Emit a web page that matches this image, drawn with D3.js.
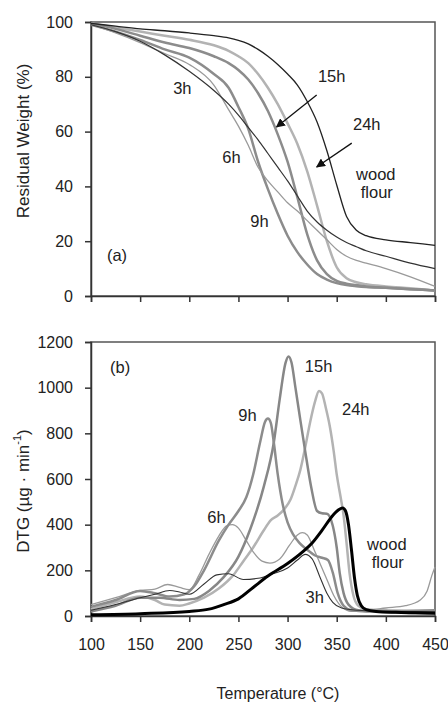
<!DOCTYPE html>
<html lang="en">
  <head>
    <meta charset="UTF-8" />
    <title>TG / DTG curves</title>
    <style>
      body { margin: 0; background: #fff; }
      svg { font-family: "Liberation Sans", Arial, sans-serif; }
      .axis path, .axis line { stroke: #333; stroke-width: 1.5; }
      .axis text { fill: #222; }
      .lbl { fill: #222; font-size: 16.5px; text-anchor: middle; dominant-baseline: central; }
    </style>
  </head>
  <body>
    <svg width="448" height="702"></svg>
    <script src="https://d3js.org/d3.v7.min.js"></script>
    <script>
      // --- TG data (residual weight, %) ---
      const tgTemps = [100, 125, 150, 175, 200, 225, 240, 250, 260, 270, 280, 290, 300, 310, 320, 330, 340, 350, 360, 370, 380, 400, 425, 450];
      const tgWood = [99.5, 98.5, 97.5, 96.8, 96, 95, 94.2, 93.3, 92, 90, 87.5, 84.5, 81, 77, 71, 63.5, 53, 40.5, 29, 24, 22, 20.5, 19.5, 18.5];
      const tg3h = [99, 96.5, 93, 88, 82, 75, 70, 66, 61.5, 57, 52, 47, 42, 36.5, 31, 27, 24, 21.5, 19.5, 18, 16.5, 14.5, 12, 10];
      const tg6h = [99, 96, 92.5, 88.5, 84.5, 77, 68, 62, 55, 47, 42, 38, 34, 31, 27.5, 24, 20.5, 17, 14.5, 13, 12, 10, 7, 3.5];
      const tg9h = [99, 96.5, 93.5, 90, 87, 81, 76, 69, 61, 49, 39, 30, 22, 16, 11.5, 8, 6, 4.7, 4, 3.6, 3.3, 3, 2.5, 2];
      const tg15h = [99.5, 97.5, 95, 92.5, 90.5, 87.5, 85, 82.5, 79, 74, 67.5, 59, 49, 36, 22.5, 13, 8, 5.5, 4.5, 4, 3.5, 3, 2.5, 2];
      const tg24h = [99.5, 98, 96.5, 95, 93.5, 91.5, 89.5, 87.5, 85, 81, 76, 70, 63, 55.5, 45.5, 33, 20, 10.5, 6.5, 5, 4.3, 3.5, 2.8, 2];

      // --- DTG data (ug/min) ---
      const woodT = [100, 150, 200, 220, 235, 250, 265, 280, 300, 315, 325, 335, 345, 352, 356, 359, 362, 365, 368, 371, 375, 380, 390, 410, 430, 450];
      const woodD = [5, 10, 20, 30, 50, 75, 125, 175, 230, 280, 320, 375, 435, 465, 473, 460, 400, 290, 170, 90, 45, 28, 20, 16, 14, 12];
      const d3hT = [100, 125, 150, 165, 180, 190, 200, 215, 228, 240, 255, 270, 285, 300, 310, 318, 325, 333, 340, 346, 355, 370, 400, 450];
      const d3hD = [25, 50, 80, 95, 112, 105, 95, 140, 180, 185, 160, 165, 185, 210, 245, 270, 250, 170, 100, 60, 35, 25, 20, 18];
      const d6hT = [100, 125, 150, 165, 178, 190, 200, 210, 220, 230, 238, 244, 250, 258, 266, 274, 282, 292, 302, 310, 315, 320, 327, 333, 340, 347, 355, 365, 380, 400, 420, 435, 442, 447, 450];
      const d6hD = [50, 80, 112, 118, 138, 125, 115, 180, 270, 350, 395, 400, 385, 330, 275, 240, 232, 250, 310, 355, 365, 355, 290, 230, 160, 90, 40, 20, 25, 35, 45, 70, 110, 180, 215];
      const d9hT = [100, 125, 150, 165, 180, 195, 205, 215, 230, 240, 250, 258, 265, 272, 277, 280, 283, 286, 290, 295, 300, 306, 312, 320, 328, 335, 341, 346, 351, 357, 365, 380, 450];
      const d9hD = [40, 70, 110, 100, 85, 95, 130, 200, 330, 400, 460, 520, 620, 760, 850, 865, 845, 760, 620, 490, 410, 355, 320, 290, 265, 255, 245, 190, 100, 45, 25, 20, 25];
      const d15hT = [100, 125, 150, 170, 190, 205, 220, 235, 250, 262, 276, 286, 292, 298, 301, 304, 308, 313, 318, 324, 330, 335, 340, 346, 350, 353, 357, 362, 372, 400, 450];
      const d15hD = [20, 45, 80, 80, 70, 75, 110, 170, 260, 380, 570, 760, 950, 1110, 1137, 1110, 1000, 858, 720, 565, 460, 450, 448, 395, 300, 190, 100, 50, 25, 18, 12];
      const d24hT = [100, 125, 150, 165, 175, 190, 200, 215, 230, 245, 255, 265, 275, 283, 290, 297, 303, 308, 313, 318, 323, 328, 332, 335, 339, 343, 347, 350, 354, 357, 360, 363, 367, 372, 380, 400, 450];
      const d24hD = [30, 60, 85, 70, 50, 45, 55, 80, 120, 180, 240, 300, 370, 420, 440, 470, 510, 570, 640, 740, 850, 940, 985, 975, 910, 830, 720, 620, 520, 440, 320, 190, 90, 45, 30, 25, 20];

      const xTicks = [100, 150, 200, 250, 300, 350, 400, 450];
      const tgTicks = [0, 20, 40, 60, 80, 100];
      const dtgTicks = [0, 200, 400, 600, 800, 1000, 1200];

      const svg = d3.select("svg");
      const x = d3.scaleLinear().domain([100, 450]).range([91, 435]);
      const yTop = d3.scaleLinear().domain([0, 100]).range([296, 22]);
      const yBot = d3.scaleLinear().domain([0, 1200]).range([616, 342]);

      function frame(y) {
        svg.append("rect")
          .attr("x", x(100)).attr("y", y.range()[1])
          .attr("width", x(450) - x(100)).attr("height", y.range()[0] - y.range()[1])
          .attr("fill", "none").attr("stroke", "#555").attr("stroke-width", 1.5);
      }
      frame(yTop);
      frame(yBot);

      // axes
      svg.append("g").attr("class", "axis")
        .attr("transform", `translate(0,${yTop(0)})`)
        .call(d3.axisBottom(x).tickValues(xTicks).tickSize(6).tickFormat(""));
      const gxBot = svg.append("g").attr("class", "axis")
        .attr("transform", `translate(0,${yBot(0)})`)
        .call(d3.axisBottom(x).tickValues(xTicks).tickSize(6).tickPadding(17));
      gxBot.selectAll("text").style("font-size", "16px");

      const gyTop = svg.append("g").attr("class", "axis")
        .attr("transform", `translate(${x(100)},0)`)
        .call(d3.axisLeft(yTop).tickValues(tgTicks).tickSize(6).tickPadding(12));
      const gyBot = svg.append("g").attr("class", "axis")
        .attr("transform", `translate(${x(100)},0)`)
        .call(d3.axisLeft(yBot).tickValues(dtgTicks).tickSize(6).tickPadding(12).tickFormat(d3.format("d")));
      gyTop.selectAll("text").style("font-size", "16px");
      gyBot.selectAll("text").style("font-size", "16px");

      // axis titles
      svg.append("text")
        .attr("transform", `translate(23,141) rotate(-90)`)
        .attr("text-anchor", "middle").attr("dominant-baseline", "central")
        .style("font-size", "17px").attr("fill", "#222")
        .text("Residual Weight (%)");
      const dtgTitle = svg.append("text")
        .attr("transform", `translate(23,491) rotate(-90)`)
        .attr("text-anchor", "middle").attr("dominant-baseline", "central")
        .style("font-size", "17px").attr("fill", "#222");
      dtgTitle.append("tspan").text("DTG (µg · min");
      dtgTitle.append("tspan").attr("dy", -6).style("font-size", "11px").text("-1");
      dtgTitle.append("tspan").attr("dy", 6).text(")");
      svg.append("text")
        .attr("x", 278).attr("y", 693)
        .attr("text-anchor", "middle").attr("dominant-baseline", "central")
        .style("font-size", "16px").attr("fill", "#222")
        .text("Temperature  (°C)");

      // lines
      function drawLine(xs, ys, yScale, color, width) {
        const pts = xs.map((t, i) => [t, ys[i]]);
        svg.append("path")
          .datum(pts)
          .attr("fill", "none")
          .attr("stroke", color)
          .attr("stroke-width", width)
          .attr("stroke-linejoin", "round")
          .attr("d", d3.line().x((d) => x(d[0])).y((d) => yScale(d[1])).curve(d3.curveMonotoneX));
      }

      drawLine(tgTemps, tg24h, yTop, "#b3b3b3", 2.5);
      drawLine(tgTemps, tg15h, yTop, "#8c8c8c", 2.5);
      drawLine(tgTemps, tg9h, yTop, "#8c8c8c", 2.5);
      drawLine(tgTemps, tg6h, yTop, "#9a9a9a", 1.3);
      drawLine(tgTemps, tg3h, yTop, "#333", 1.2);
      drawLine(tgTemps, tgWood, yTop, "#222", 1.3);

      drawLine(d24hT, d24hD, yBot, "#b3b3b3", 2.5);
      drawLine(d6hT, d6hD, yBot, "#9a9a9a", 1.3);
      drawLine(d15hT, d15hD, yBot, "#878787", 2.5);
      drawLine(d9hT, d9hD, yBot, "#8c8c8c", 2.5);
      drawLine(d3hT, d3hD, yBot, "#333", 1.1);
      drawLine(woodT, woodD, yBot, "#000", 3);

      // arrows (top panel)
      svg.append("defs").append("marker")
        .attr("id", "head").attr("viewBox", "0 0 10 10")
        .attr("refX", 9).attr("refY", 5)
        .attr("markerWidth", 7).attr("markerHeight", 7)
        .attr("orient", "auto")
        .append("path").attr("d", "M0,0L10,5L0,10Z").attr("fill", "#111");
      const arrows = [
        [329.6, 73.4, 288.8, 61.7],
        [365.3, 55.8, 329.6, 47.1],
      ];
      arrows.forEach((a) => {
        svg.append("line")
          .attr("x1", x(a[0])).attr("y1", yTop(a[1]))
          .attr("x2", x(a[2])).attr("y2", yTop(a[3]))
          .attr("stroke", "#111").attr("stroke-width", 1.3)
          .attr("marker-end", "url(#head)");
      });

      // labels
      const topLabels = [
        ["3h", 192.9, 75.9], ["6h", 242.9, 50.7], ["9h", 271.4, 27.4],
        ["15h", 344.9, 80.3], ["24h", 380.6, 62.8],
        ["wood", 389.8, 44.5], ["flour", 390.8, 38], ["(a)", 126.5, 15],
      ];
      const botLabels = [
        ["15h", 331.6, 1095], ["24h", 369.4, 907], ["9h", 259.2, 880],
        ["6h", 227.6, 434], ["wood", 401, 315], ["flour", 402, 237],
        ["3h", 327.6, 83], ["(b)", 129.6, 1091],
      ];
      topLabels.forEach((l) => {
        svg.append("text").attr("class", "lbl").attr("x", x(l[1])).attr("y", yTop(l[2])).text(l[0]);
      });
      botLabels.forEach((l) => {
        svg.append("text").attr("class", "lbl").attr("x", x(l[1])).attr("y", yBot(l[2])).text(l[0]);
      });
    </script>
  </body>
</html>
